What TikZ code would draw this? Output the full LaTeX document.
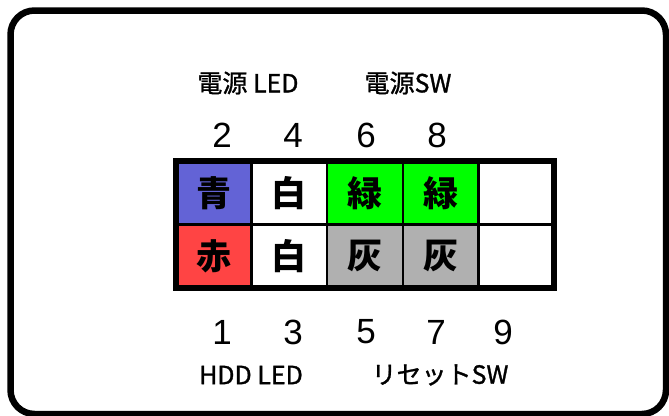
\documentclass[tikz,border=0pt]{standalone}
\usepackage{fontspec}
\setmainfont{Liberation Sans}
\newfontfamily\cjk{Noto Sans CJK JP}
\newfontfamily\cjkm[FakeBold=1.2]{Noto Sans CJK JP}
\definecolor{cblue}{RGB}{99,99,214}
\definecolor{cred}{RGB}{255,68,68}
\definecolor{cgreen}{RGB}{0,255,0}
\definecolor{cgray}{RGB}{176,176,176}
\tikzset{
  cell/.style={draw=black, line width=2.5pt, minimum width=75.6pt, minimum height=63.5pt,
    inner sep=0pt, outer sep=0pt, font=\cjk\bfseries\fontsize{35}{35}\selectfont},
  num/.style={font=\fontsize{35}{35}\selectfont, inner sep=0pt},
  lbl/.style={font=\cjkm\fontsize{25}{25}\selectfont, inner sep=0pt},
}
\begin{document}
\begin{tikzpicture}[x=1pt,y=-1pt]
\useasboundingbox (0,0) rectangle (669,415);
\begin{scope}
\clip (0,0) rectangle (669,415);
\draw[line width=6.5pt, rounded corners=24pt] (10.5,10.5) rectangle (666,414);
\end{scope}
% cells
\node[cell, fill=cblue]  (c2) at (213.8,192.75) {青};
\node[cell, fill=white]  (c4) at (289.4,192.75) {白};
\node[cell, fill=cgreen] (c6) at (365.0,192.75) {緑};
\node[cell, fill=cgreen] (c8) at (440.6,192.75) {緑};
\node[cell, fill=white]  (c10) at (516.2,192.75) {};
\node[cell, fill=cred]   (c1) at (213.8,256.25) {赤};
\node[cell, fill=white]  (c3) at (289.4,256.25) {白};
\node[cell, fill=cgray]  (c5) at (365.0,256.25) {灰};
\node[cell, fill=cgray]  (c7) at (440.6,256.25) {灰};
\node[cell, fill=white]  (c9) at (516.2,256.25) {};
\draw[line width=6pt] (c2.north west) rectangle (c9.south east);
% numbers
\node[num] (n2) at (222,135) {2};
\node[num] (n4) at (293,135) {4};
\node[num] (n6) at (366,135) {6};
\node[num] (n8) at (437,135) {8};
\node[num] (n1) at (222,332) {1};
\node[num] (n3) at (293,332) {3};
\node[num] (n5) at (366,332) {5};
\node[num] (n7) at (436,332) {7};
\node[num] (n9) at (503,332) {9};
% labels
\node[lbl] (l1) at (248,83) {電源 LED};
\node[lbl] (l2) at (408,83) {電源SW};
\node[lbl] (l3) at (251,375) {HDD LED};
\node[lbl] (l4) at (440,375) {リセットSW};
\end{tikzpicture}
\end{document}
